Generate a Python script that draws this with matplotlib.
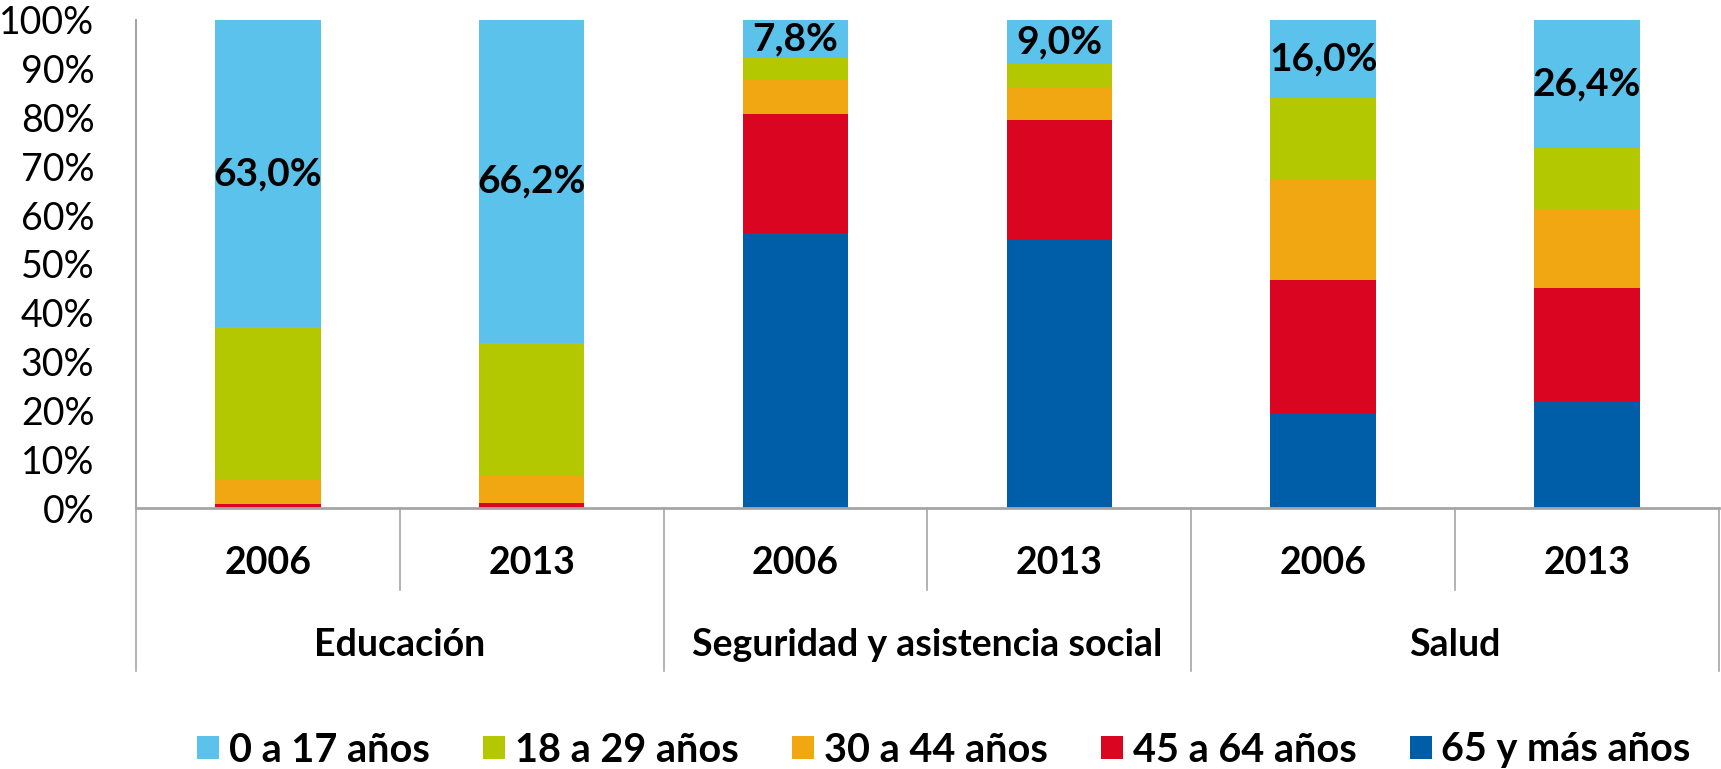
import matplotlib
matplotlib.use("Agg")
import matplotlib.pyplot as plt
from matplotlib import font_manager
import numpy as np


def pick_font(names):
    for n in names:
        try:
            font_manager.findfont(n, fallback_to_default=False)
            return n
        except ValueError:
            pass
    return "DejaVu Sans"


FONT = pick_font(["Liberation Sans Narrow", "Lato", "Open Sans"])
plt.rcParams["font.family"] = [FONT, "DejaVu Sans"]

# data
groups = ["Educación", "Seguridad y asistencia social", "Salud"]
years = ["2006", "2013", "2006", "2013", "2006", "2013"]
series = ["65 y más años", "45 a 64 años", "30 a 44 años", "18 a 29 años", "0 a 17 años"]
v65 = [0.0, 0.0, 56.3, 55.0, 19.2, 21.9]
v45 = [0.9, 1.0, 24.4, 24.4, 27.5, 23.5]
v30 = [5.1, 5.6, 7.0, 6.9, 20.6, 16.4]
v18 = [31.0, 27.2, 4.5, 4.7, 16.7, 12.7]
v0 = [63.0, 66.2, 7.8, 9.0, 16.0, 26.4]
colors = ["#005EA8", "#DA0520", "#F0A711", "#B3C800", "#5BC2EB"]

data = np.array([v65, v45, v30, v18, v0])
shares = data / data.sum(axis=0) * 100  # 100% stacked

fig = plt.figure(figsize=(17.21, 7.69), dpi=100)
ax = fig.add_axes([0.079, 0.3394, 0.9198, 0.6347])

x = np.arange(len(years))
bottom = np.zeros(len(years))
handles = []
for i, name in enumerate(series):
    b = ax.bar(x, shares[i], 0.4, bottom=bottom, color=colors[i], label=name)
    handles.append(b)
    bottom += shares[i]

# labels on the 0-17 segment
top_bottom = bottom - shares[-1]
for xi, yb, h, v in zip(x, top_bottom, shares[-1], v0):
    ax.text(xi, yb + h / 2, f"{v:.1f}%".replace(".", ","), ha="center", va="center",
            fontsize=28, fontweight="bold", color="black")

ax.set_xlim(-0.5, 5.5)
ax.set_ylim(0, 100)
ax.set_yticks(np.arange(0, 101, 10))
ax.set_yticklabels([f"{t}%" for t in range(0, 101, 10)], fontsize=27)
ax.tick_params(axis="y", length=0, pad=30)
ax.set_xticks([])
for s in ["top", "right"]:
    ax.spines[s].set_visible(False)
grey = "#A6A6A6"
ax.spines["left"].set_color(grey)
ax.spines["bottom"].set_color(grey)
ax.spines["left"].set_linewidth(1.5)
ax.spines["bottom"].set_linewidth(2)

tr = ax.get_xaxis_transform()
for xs in [0.5, 2.5, 4.5]:
    ax.plot([xs, xs], [0, -0.168], transform=tr, color=grey, lw=1.2, clip_on=False)
for xs in [-0.5, 1.5, 3.5, 5.5]:
    ax.plot([xs, xs], [0, -0.334], transform=tr, color=grey, lw=1.2, clip_on=False)
for xi, yr in zip(x, years):
    ax.text(xi, -0.113, yr, transform=tr, ha="center", va="center",
            fontsize=27, fontweight="bold")
for gi, g in enumerate(groups):
    ax.text(2 * gi + 0.5, -0.281, g, transform=tr, ha="center", va="center",
            fontsize=27, fontweight="bold")

fig.legend(handles[::-1], series[::-1], loc="center", bbox_to_anchor=(944 / 1721, 1 - 750 / 769),
           ncol=5, frameon=False, prop={"size": 28.5, "weight": "bold"},
           handlelength=0.55, handleheight=0.55, handletextpad=0.25, columnspacing=1.35)

fig.savefig("out.png", dpi=100)
